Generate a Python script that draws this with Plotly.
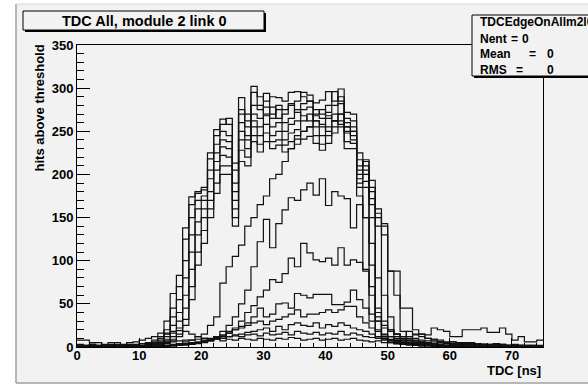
import plotly.graph_objects as go

# ---------------- data: hits per 1 ns TDC bin (bins 0..74) ----------------
bin_edges = list(range(0, 76))

b1 = [2,1,3,1,2,1,2,2,1,3, 4,5,8,16,30,62,83,138,174,180,
      185,225,252,264,258,213,270,262,295,280, 270,278,265,270,282,272,268,262,270,275,
      268,262,258,250,240,175,90,30,12,8, 5,4,3,2,2,1,2,1,0,1,
      1,0,1,0,0,1,0,0,1,0,0,0,1,0,0]
b2 = [1,2,1,2,1,3,1,2,2,1, 2,4,6,10,20,45,70,125,165,178,
      182,218,245,258,265,205,289,270,302,290, 285,290,289,285,295,296,290,285,283,286,
      296,285,299,272,270,217,150,60,20,10, 6,4,3,3,2,2,1,1,1,0,
      1,0,0,1,0,0,1,0,0,0,1,0,0,0,0]
b3 = [1,1,2,0,1,2,1,1,2,1, 2,3,5,8,15,35,55,100,150,170,
      175,205,235,250,245,190,275,255,280,275, 294,270,280,275,280,285,295,292,275,270,
      280,296,285,265,262,210,217,120,40,15, 8,5,4,3,2,2,2,1,1,1,
      0,1,0,1,0,0,0,1,0,0,0,1,0,0,0]
b4 = [0,1,1,1,0,1,1,2,1,1, 1,2,4,6,12,25,40,80,130,160,
      170,195,225,240,238,180,260,245,270,265, 278,265,275,260,265,275,282,285,268,265,
      272,280,290,260,255,205,215,193,80,25, 12,8,5,4,3,2,2,2,1,1,
      1,1,0,0,1,0,0,0,1,0,0,0,0,1,0]
b5 = [1,0,1,1,1,0,1,1,1,2, 1,2,3,5,9,18,30,60,110,145,
      160,180,215,232,230,170,250,240,262,255, 268,255,260,250,258,262,275,278,262,255,
      265,270,282,255,250,200,205,185,160,60, 20,12,8,5,4,3,3,2,2,1,
      1,1,1,0,0,1,0,1,0,0,1,0,0,0,0]
b6 = [0,1,0,1,1,1,0,1,1,1, 1,1,2,4,7,12,22,45,90,130,
      150,170,205,222,220,160,240,230,255,245, 258,245,250,240,248,252,262,270,255,245,
      255,262,270,248,245,195,200,180,150,140, 35,15,10,7,5,4,3,3,2,2,
      1,1,1,1,0,0,1,0,0,1,0,0,1,0,0]
b7 = [0,0,1,0,1,0,1,0,1,1, 1,1,2,3,5,9,15,32,70,110,
      135,160,190,210,210,150,228,220,245,235, 248,238,240,234,238,241,250,255,245,235,
      245,255,262,238,236,190,192,172,140,130, 88,60,18,12,8,6,4,3,3,2,
      2,1,1,1,1,0,1,0,1,0,0,1,0,0,0]
b8 = [0,0,0,1,0,0,1,0,0,1, 0,1,1,2,4,7,12,25,55,95,
      120,150,178,200,200,140,215,210,238,226, 238,230,234,226,230,235,241,244,236,228,
      236,248,255,230,230,185,185,165,155,143, 88,88,45,45,20,15,10,8,6,5,
      4,3,3,2,2,2,1,1,1,1,1,0,1,0,0]
m1 = [0,1,0,0,1,0,0,1,0,0, 1,0,1,1,2,3,4,6,8,12,
      15,25,35,74,93,105,118,140,150,165, 175,195,200,215,230,245,250,255,262,258,
      250,262,270,255,250,225,210,150,35,12, 8,6,5,4,3,3,2,2,2,1,
      1,1,1,1,0,1,0,0,1,0,1,0,0,0,0]
m2 = [0,0,1,0,0,0,1,0,0,0, 0,1,0,1,1,2,2,3,4,5,
      7,9,12,18,25,35,50,66,93,122, 148,115,143,159,173,170,182,190,176,195,
      164,180,175,172,138,165,150,95,30,12, 8,6,5,4,4,3,2,2,2,1,
      1,1,1,0,1,0,0,1,0,0,0,0,1,0,0]
m3 = [0,0,0,1,0,0,0,0,1,0, 0,0,1,0,1,1,2,2,3,4,
      5,7,9,12,16,22,30,40,48,58, 66,78,75,85,103,93,120,109,101,99,
      103,95,115,95,101,98,88,70,45,30, 20,15,12,10,14,12,10,9,8,6,
      6,5,5,4,4,3,3,3,2,2,2,1,1,1,1]
l1 = [0,0,1,0,0,1,0,0,0,1, 0,1,0,1,1,2,2,3,4,5,
      6,8,10,13,16,20,24,28,35,45, 35,38,50,51,45,62,60,57,61,61,
      61,49,49,52,66,55,45,38,30,22, 18,15,12,18,15,15,14,22,20,18,
      12,12,20,20,20,22,17,17,22,15,8,12,6,6,8]
l2 = [1,0,0,1,0,0,1,0,0,0, 1,0,1,1,1,2,3,4,5,6,
      8,10,12,14,18,20,22,25,28,30, 26,30,32,35,38,43,35,38,38,40,
      43,40,43,47,47,35,28,22,18,14, 12,10,9,8,10,8,7,9,6,5,
      6,5,4,5,4,3,3,4,3,2,3,2,2,2,2]
l3 = [0,1,0,0,1,0,0,1,0,0, 0,1,1,1,2,2,3,3,4,5,
      6,7,9,10,12,14,15,17,18,20, 22,18,24,20,26,28,25,24,28,22,
      26,24,28,25,22,20,18,15,12,10, 9,8,7,8,7,6,5,6,5,4,
      4,5,3,4,3,3,2,3,2,2,2,2,1,2,1]
l4 = [3,2,3,2,1,2,3,2,3,2, 4,3,4,5,6,6,7,8,8,9,
      10,9,11,10,12,13,12,14,15,13, 16,14,15,17,14,18,16,15,17,14,
      16,15,18,14,16,14,12,11,10,9, 8,7,6,7,6,5,5,4,5,4,
      3,4,3,3,2,3,2,2,3,2,2,1,2,1,1]
l5 = [8,8,5,5,3,5,5,3,5,6, 8,10,12,12,16,16,19,18,15,12,
      10,8,10,7,9,8,10,9,8,10, 9,8,10,9,11,10,8,9,10,8,
      9,10,8,9,10,8,7,6,7,5, 5,4,5,4,4,3,4,3,3,2,
      3,2,2,3,2,2,1,2,2,1,1,2,1,1,1]

series = [b1, b2, b3, b4, b5, b6, b7, b8, m1, m2, m3, l1, l2, l3, l4, l5]

x_ticks = [0, 10, 20, 30, 40, 50, 60, 70]
y_ticks = [0, 50, 100, 150, 200, 250, 300, 350]

title_text = "TDC All, module 2 link 0"
x_title = "TDC [ns]"
y_title = "hits above threshold"
stats_name = "TDCEdgeOnAllm2l0"
# (label, label_x, "=", eq_x, value, value_x, row_y) -- pixel positions of pieces
stats_rows = [("Nent", 478, "=", 509, "0", 520, 39),
              ("Mean", 478, "=", 527, "0", 545, 54),
              ("RMS", 478, "=", 514, "0", 545, 70)]

# ---------------- layout geometry (pixels) ----------------
W, H = 588, 385
L, R, T, B = 77, 543, 45, 347
BG = "#f2f2f2"
FONT = "Liberation Sans"


def fx(px):
    return (px - L) / (R - L)


def fy(py):
    return (B - py) / (B - T)


fig = go.Figure()
for vals in series:
    fig.add_trace(go.Scatter(
        x=bin_edges, y=vals + [vals[-1]], mode="lines",
        line=dict(shape="hv", color="#111111", width=1.2),
        hoverinfo="skip", showlegend=False))

axis_font = dict(family=FONT, size=13, color="black", weight="bold")
fig.update_xaxes(range=[0, 75], tickvals=x_ticks, ticks="inside", ticklen=9,
                 tickwidth=1, tickcolor="black", showgrid=False, zeroline=False,
                 showline=True, linecolor="black", linewidth=1, mirror=True,
                 tickfont=axis_font, ticklabelstandoff=-4,
                 minor=dict(dtick=2, tick0=0, ticks="inside", ticklen=4.5,
                            tickcolor="black", tickwidth=1))
fig.update_yaxes(range=[0, 350], tickvals=y_ticks, ticks="inside", ticklen=13,
                 tickwidth=1, tickcolor="black", showgrid=False, zeroline=False,
                 showline=True, linecolor="black", linewidth=1, mirror=True,
                 tickfont=axis_font,
                 minor=dict(dtick=10, tick0=0, ticks="inside", ticklen=6.5,
                            tickcolor="black", tickwidth=1))

shapes = []
# canvas
shapes.append(dict(type="rect", xref="paper", yref="paper", x0=fx(16), x1=fx(600),
                   y0=fy(383), y1=fy(4), fillcolor=BG, line=dict(width=0), layer="below"))
shapes.append(dict(type="line", xref="paper", yref="paper", x0=fx(16), x1=fx(16),
                   y0=fy(383), y1=fy(4), line=dict(color="#a0a0a0", width=1.5)))
shapes.append(dict(type="line", xref="paper", yref="paper", x0=fx(16), x1=fx(600),
                   y0=fy(383), y1=fy(383), line=dict(color="#a0a0a0", width=1.5)))
shapes.append(dict(type="line", xref="paper", yref="paper", x0=fx(16), x1=fx(600),
                   y0=fy(4), y1=fy(4), line=dict(color="#d6d6d6", width=1)))
# title box with shadow
shapes.append(dict(type="rect", xref="paper", yref="paper", x0=fx(25), x1=fx(266),
                   y0=fy(32), y1=fy(13), fillcolor="black", line=dict(width=0)))
shapes.append(dict(type="rect", xref="paper", yref="paper", x0=fx(23), x1=fx(264),
                   y0=fy(30), y1=fy(11), fillcolor=BG, line=dict(color="black", width=1)))
# stats box with shadow
shapes.append(dict(type="rect", xref="paper", yref="paper", x0=fx(474), x1=fx(600),
                   y0=fy(78), y1=fy(17), fillcolor="black", line=dict(width=0)))
shapes.append(dict(type="rect", xref="paper", yref="paper", x0=fx(472), x1=fx(598),
                   y0=fy(76), y1=fy(15), fillcolor=BG, line=dict(color="black", width=1)))
fig.update_layout(shapes=shapes)

ann = []
ann.append(dict(text=title_text, x=fx(144), y=fy(20.5), xref="paper", yref="paper",
                xanchor="center", yanchor="middle", showarrow=False,
                font=dict(family=FONT, size=14.5, color="black", weight="bold")))
ann.append(dict(text=y_title, x=fx(39), y=fy(43), xref="paper", yref="paper",
                xanchor="center", yanchor="top", textangle=-90, showarrow=False,
                font=dict(family=FONT, size=13, color="black", weight="bold")))
ann.append(dict(text=x_title, x=fx(543), y=fy(370), xref="paper", yref="paper",
                xanchor="right", yanchor="middle", showarrow=False,
                font=dict(family=FONT, size=13, color="black", weight="bold")))
sfont = dict(family=FONT, size=12, color="black", weight="bold")
ann.append(dict(text=stats_name, x=fx(478), y=fy(22), xref="paper", yref="paper",
                xanchor="left", yanchor="middle", showarrow=False, font=sfont))
for lab, lx, eq, ex, val, vx, yy in stats_rows:
    for txt, px in ((lab, lx), (eq, ex), (val, vx)):
        ann.append(dict(text=txt, x=fx(px), y=fy(yy), xref="paper", yref="paper",
                        xanchor="left", yanchor="middle", showarrow=False, font=sfont))

fig.update_layout(annotations=ann, width=W, height=H,
                  margin=dict(l=L, r=W - R, t=T, b=H - B, pad=0),
                  paper_bgcolor="white", plot_bgcolor=BG, showlegend=False)

fig.write_html("out.html")
